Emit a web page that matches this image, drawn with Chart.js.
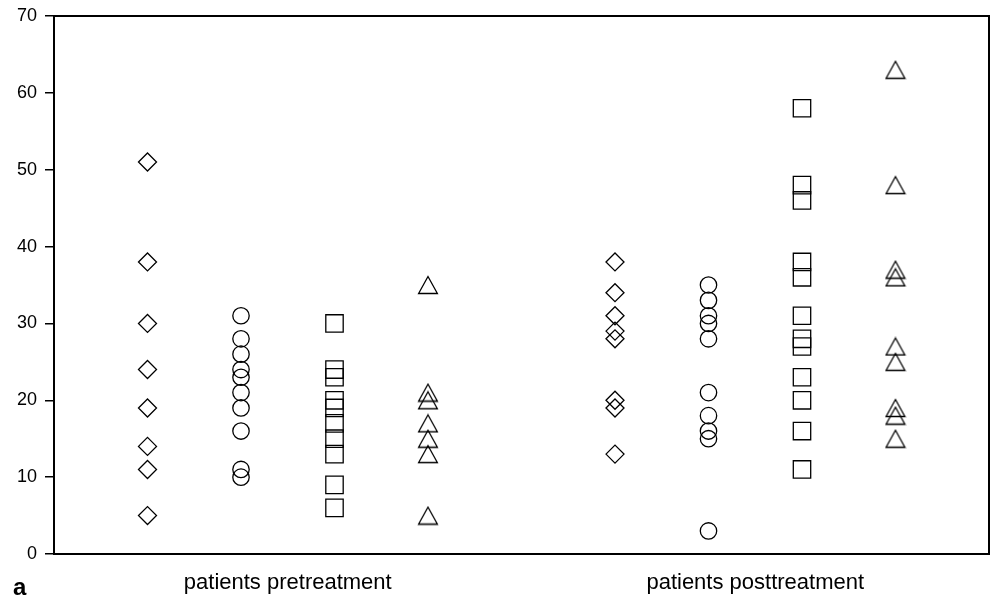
<!DOCTYPE html>
<html>
<head>
<meta charset="utf-8">
<script src="https://cdn.jsdelivr.net/npm/chart.js@4/dist/chart.umd.min.js"></script>
<style>
  html, body { margin: 0; padding: 0; background: #fff; }
  #wrap { width: 991px; height: 601px; }
</style>
</head>
<body>
<div id="wrap"><canvas id="c" width="991" height="601"></canvas></div>
<script>
// Group captions along the x axis and the slot at the middle of each group
const groupLabels = ['patients pretreatment', 'patients posttreatment'];
const groupCenters = [1.5, 6.5];

// Y axis ticks
const yTickValues = [0, 10, 20, 30, 40, 50, 60, 70];

// Measured values per marker column (pretreatment)
const preDiamond = [51, 38, 30, 24, 19, 14, 11, 5];
const preCircle = [31, 28, 26, 24, 23, 21, 19, 16, 11, 10];
const preSquare = [30, 24, 23, 20, 19, 17, 15, 13, 9, 6];
const preTriangle = [35, 21, 20, 17, 15, 13, 5];

// Measured values per marker column (posttreatment)
const postDiamond = [38, 34, 31, 29, 28, 20, 19, 13];
const postCircle = [35, 33, 31, 30, 28, 21, 18, 16, 15, 3];
const postSquare = [58, 48, 46, 38, 36, 31, 28, 27, 23, 20, 16, 11];
const postTriangle = [63, 48, 37, 36, 27, 25, 19, 18, 15];

// Open triangle marker, centred on its bounding box
function triangleMarker() {
  const cv = document.createElement('canvas');
  cv.width = 22; cv.height = 20;
  const g = cv.getContext('2d');
  g.strokeStyle = '#000';
  g.lineWidth = 1.3;
  g.lineJoin = 'miter';
  g.beginPath();
  g.moveTo(11, 1.5);
  g.lineTo(1.6, 18.5);
  g.lineTo(20.4, 18.5);
  g.closePath();
  g.stroke();
  return cv;
}
const triImg = triangleMarker();

function column(values, slot) {
  return values.map(v => ({ x: slot, y: v }));
}

function series(values, slot, style, radius) {
  return {
    data: column(values, slot),
    pointStyle: style,
    pointRadius: radius,
    pointHoverRadius: radius,
    pointBorderColor: '#000',
    pointBackgroundColor: 'rgba(0,0,0,0)',
    pointBorderWidth: 1.3,
    showLine: false
  };
}

const datasets = [
  series(preDiamond, 0, 'rectRot', 9),
  series(preCircle, 1, 'circle', 8.2),
  series(preSquare, 2, 'rect', 12.3),
  series(preTriangle, 3, triImg, 9),
  series(postDiamond, 5, 'rectRot', 9),
  series(postCircle, 6, 'circle', 8.2),
  series(postSquare, 7, 'rect', 12.3),
  series(postTriangle, 8, triImg, 9)
];

// Frame around the plot area and the panel letter
const framePlugin = {
  id: 'frame',
  afterDraw(chart) {
    const { ctx, chartArea: a } = chart;
    ctx.save();
    ctx.strokeStyle = '#000';
    ctx.lineWidth = 2;
    ctx.strokeRect(a.left, a.top, a.right - a.left, a.bottom - a.top);
    ctx.fillStyle = '#000';
    ctx.font = 'bold 24px "Liberation Sans", Arial, sans-serif';
    ctx.textBaseline = 'alphabetic';
    ctx.textAlign = 'left';
    ctx.fillText('a', 13, 595);
    ctx.restore();
  }
};

new Chart(document.getElementById('c'), {
  type: 'scatter',
  data: { datasets },
  options: {
    responsive: false,
    animation: false,
    devicePixelRatio: 1,
    layout: { autoPadding: false, padding: { top: 16, right: 2, left: 0, bottom: 0 } },
    plugins: { legend: { display: false }, tooltip: { enabled: false } },
    scales: {
      x: {
        type: 'linear',
        min: -1,
        max: 9,
        grid: { display: false },
        border: { display: false },
        afterBuildTicks(scale) {
          scale.ticks = groupCenters.map(v => ({ value: v }));
        },
        afterFit(scale) {
          scale.height = 47;
          scale.paddingLeft = 0;
          scale.paddingRight = 0;
        },
        ticks: {
          color: '#000',
          padding: 8,
          maxRotation: 0,
          font: { family: '"Liberation Sans", Arial, sans-serif', size: 22 },
          callback(value) {
            const i = groupCenters.indexOf(value);
            return i >= 0 ? groupLabels[i] : '';
          }
        }
      },
      y: {
        min: 0,
        max: 70,
        afterBuildTicks(scale) {
          scale.ticks = yTickValues.map(v => ({ value: v }));
        },
        afterFit(scale) {
          scale.width = 54;
          scale.paddingTop = 0;
          scale.paddingBottom = 0;
        },
        grid: {
          drawOnChartArea: false,
          drawTicks: true,
          tickLength: 9,
          color: '#000',
          lineWidth: 1.5
        },
        border: { display: false },
        ticks: {
          color: '#000',
          padding: 8,
          font: { family: '"Liberation Sans", Arial, sans-serif', size: 18 }
        }
      }
    }
  },
  plugins: [framePlugin]
});
</script>
</body>
</html>
